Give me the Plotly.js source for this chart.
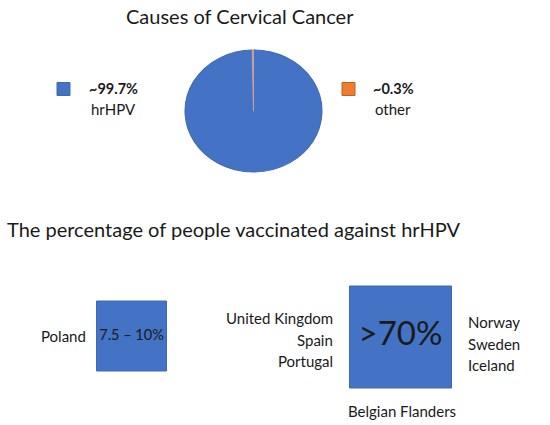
<!DOCTYPE html>
<html><head><meta charset="utf-8">
<script src="https://cdn.plot.ly/plotly-3.0.1.min.js"></script>
<style>html,body{margin:0;padding:0;background:#fff}#chart{width:550px;height:425px}</style>
</head><body><div id="chart"></div>
<script>
// Pie data
const causeLabels = ['hrHPV', 'other'];
const causeValues = [99.7, 0.3];
const causeColors = ['#4472C4', '#ED7D31'];
// Vaccination data
const groupValues = ['7.5 – 10%', '>70%'];
const groupSizes = [70, 102];
const groupLeft = [['Poland'], ['United Kingdom', 'Spain', 'Portugal']];
const groupRight = [[], ['Norway', 'Sweden', 'Iceland']];
const groupBelow = [[], ['Belgian Flanders']];

const FONT = 'Lato, "Open Sans", sans-serif';
const TXT = '#1a1a1a';

// layout positions (pixel space)
const pieCx = 253.5, pieCy = 111, pieR = 64;
const legX = [63.5, 348.5], legY = 89, legTextX = [113, 393];
const sqX = [131.5, 400.5], sqY = [336, 337];

const traces = [];
traces.push({
  type: 'pie', labels: causeLabels, values: causeValues, sort: false,
  direction: 'clockwise', rotation: 0, textinfo: 'none', hoverinfo: 'label+percent',
  marker: {colors: causeColors, line: {color: ['#3F69B4', '#C8A0A0'], width: 1}},
  domain: {x: [(pieCx - pieR) / 550, (pieCx + pieR) / 550], y: [(425 - pieCy - pieR) / 425, (425 - pieCy + pieR) / 425]},
  showlegend: false
});
// legend squares
traces.push({
  type: 'scatter', mode: 'markers', x: legX, y: [legY, legY], xaxis: 'x', yaxis: 'y',
  marker: {symbol: 'square', size: 13, opacity: 1, color: causeColors, line: {color: ['#3F69B4', '#C06020'], width: 1}},
  hoverinfo: 'skip', showlegend: false
});
// vaccination squares
traces.push({
  type: 'scatter', mode: 'markers+text', x: sqX, y: sqY, text: groupValues,
  textposition: 'middle center',
  textfont: {family: FONT, size: [14.5, 33], color: TXT},
  marker: {symbol: 'square', size: groupSizes, opacity: 1, color: '#4472C4', line: {color: '#3F69B4', width: 1}},
  hoverinfo: 'skip', showlegend: false
});

const ann = [];
ann.push({x: 240, y: 16, text: 'Causes of Cervical Cancer', font: {size: 20}});
ann.push({x: 5, y: 229, text: 'The percentage of people vaccinated against hrHPV', xanchor: 'left', font: {size: 20}});
causeLabels.forEach((l, i) => {
  ann.push({x: legTextX[i], y: 88, text: '<b>~' + causeValues[i] + '%</b>', font: {size: 14.5}});
  ann.push({x: legTextX[i], y: 109, text: l, font: {size: 15}});
});
// side labels
const lineH = 21.5;
groupLeft.forEach((arr, g) => {
  arr.forEach((t, k) => {
    const y = (g === 0 ? 336 : 318 + k * lineH);
    ann.push({x: g === 0 ? 88 : 335, y: y, text: t, xanchor: 'right', font: {size: 15}});
  });
});
groupRight.forEach((arr, g) => arr.forEach((t, k) => {
  ann.push({x: 466, y: 322 + k * lineH, text: t, xanchor: 'left', font: {size: 15}});
}));
groupBelow.forEach((arr, g) => arr.forEach((t, k) => {
  ann.push({x: 402, y: 411, text: t, font: {size: 15}});
}));
ann.forEach(a => {
  a.xref = 'x'; a.yref = 'y'; a.showarrow = false;
  if (!a.xanchor) a.xanchor = 'center';
  a.yanchor = 'middle';
  a.font = Object.assign({family: FONT, color: TXT}, a.font);
});

const layout = {
  width: 550, height: 425, margin: {l: 0, r: 0, t: 0, b: 0},
  paper_bgcolor: '#fff', plot_bgcolor: 'rgba(0,0,0,0)',
  xaxis: {range: [0, 550], visible: false, fixedrange: true},
  yaxis: {range: [425, 0], visible: false, fixedrange: true},
  annotations: ann, showlegend: false
};
Plotly.newPlot('chart', traces, layout, {displayModeBar: false, staticPlot: true}).then(gd => {
  // reference pie is slightly elliptical: stretch about its centre
  gd.querySelectorAll('.pielayer').forEach(g => {
    g.style.transformOrigin = pieCx + 'px ' + pieCy + 'px';
    g.style.transform = 'scale(1.07,0.953)';
  });
});
</script></body></html>
